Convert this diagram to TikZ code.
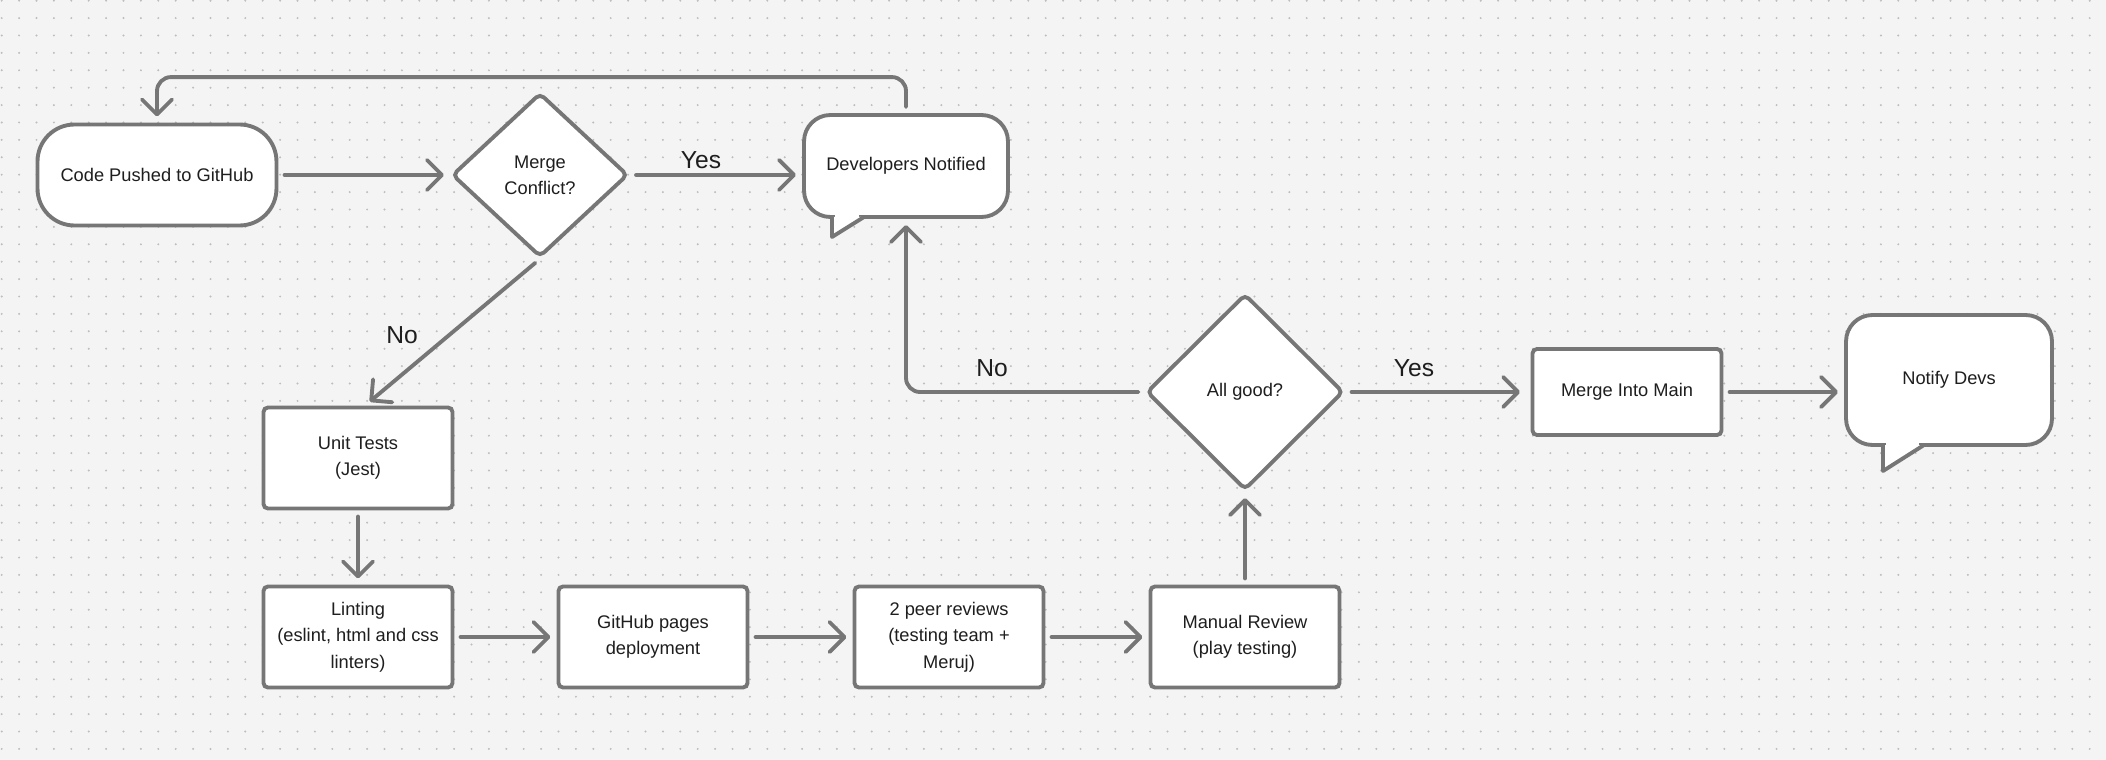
\documentclass[tikz,border=0pt]{standalone}
\usepackage{fontspec}
\setmainfont{Liberation Sans}
\usetikzlibrary{shapes.geometric,arrows.meta}
\definecolor{bgc}{HTML}{F4F4F4}
\definecolor{dotc}{HTML}{BDBDBD}
\definecolor{linec}{HTML}{767676}
\definecolor{txtc}{HTML}{1E1E1E}
\tikzset{
  txt/.style={text=txtc, font=\fontsize{10.4}{15}\selectfont, align=center},
  box/.style={txt, draw=linec, fill=white, line width=2.2pt, rounded corners=2.5pt,
    minimum width=3.78cm, minimum height=2.02cm, inner sep=0pt},
  decision/.style={txt, diamond, draw=linec, fill=white, line width=2.2pt,
    rounded corners=3pt, inner sep=0pt},
  bubble/.style={box, rounded corners=15pt},
  tail/.style={draw=linec, fill=white, line width=2.2pt, line join=round, line cap=round},
  flow/.style={draw=linec, line width=2.2pt, line cap=round, line join=round,
    -{Straight Barb[length=8.5pt,width=17pt,line cap=round,line join=round]},
    shorten <=3.5pt, shorten >=3.5pt},
  lbl/.style={text=txtc, font=\fontsize{14}{16}\selectfont, inner sep=0pt}
}
\begin{document}
\begin{tikzpicture}[x=0.02cm,y=-0.02cm]
\useasboundingbox (0,0) rectangle (2106,760);
\fill[bgc] (0,0) rectangle (2106,760);
\foreach \i in {0,...,121}
  \foreach \j in {0,...,43}
    \fill[dotc] (\i*17.4+1.7,\j*17.4+0.7) circle[radius=1.1];

% top row
\node[box, minimum width=4.78cm, rounded corners=21pt] (push) at (157,175) {Code Pushed to GitHub};
\node[decision, minimum width=3.52cm, minimum height=3.28cm] (merge) at (540,175) {Merge\\Conflict?};
\node[bubble, minimum width=4.08cm, minimum height=2.04cm] (devs) at (906,166) {Developers Notified};
\fill[white] (835,214.5) rectangle (859,219.5);
\draw[tail] (832,217) -- (832,237) -- (864,217); % tail

% left column and bottom row
\node[box] (unit) at (358,458) {Unit Tests\\(Jest)};
\node[box] (lint) at (358,637) {Linting\\(eslint, html and css\\linters)};
\node[box] (pages) at (653,637) {GitHub pages\\deployment};
\node[box] (peer) at (949,637) {2 peer reviews\\(testing team +\\Meruj)};
\node[box] (manual) at (1245,637) {Manual Review\\(play testing)};

% right part
\node[decision, minimum width=3.94cm, minimum height=3.92cm] (allgood) at (1245,392) {All good?};
\node[box, minimum height=1.72cm] (main) at (1627,392) {Merge Into Main};
\node[bubble, minimum width=4.12cm, minimum height=2.6cm] (notify) at (1949,380) {Notify Devs};
\fill[white] (1886,442.5) rectangle (1919,447.5);
\draw[tail] (1883,445) -- (1883,471) -- (1924,445); % tail

% arrows
\draw[flow] (push) -- (merge);
\draw[flow] (merge) -- (merge -| devs.west);
\draw[flow, rounded corners=8pt] (devs.north) -- ++(0,-36) -| (push.north); % back
\draw[flow] (merge.south) -- ([xshift=4pt]unit.north);
\draw[flow] (unit) -- (lint);
\draw[flow] (lint) -- (pages);
\draw[flow] (pages) -- (peer);
\draw[flow] (peer) -- (manual);
\draw[flow] (manual) -- (allgood);
\draw[flow, rounded corners=8pt] (allgood.west) -| (devs.south); % no
\draw[flow, shorten >=6pt] (allgood) -- (main);
\draw[flow] (main) -- (main -| notify.west);

% labels
\node[lbl] (yes1) at (701,160) {Yes};
\node[lbl] (no1) at (402,335) {No};
\node[lbl] (no2) at (992,368) {No};
\node[lbl] (yes2) at (1414,368) {Yes};
\end{tikzpicture}
\end{document}
